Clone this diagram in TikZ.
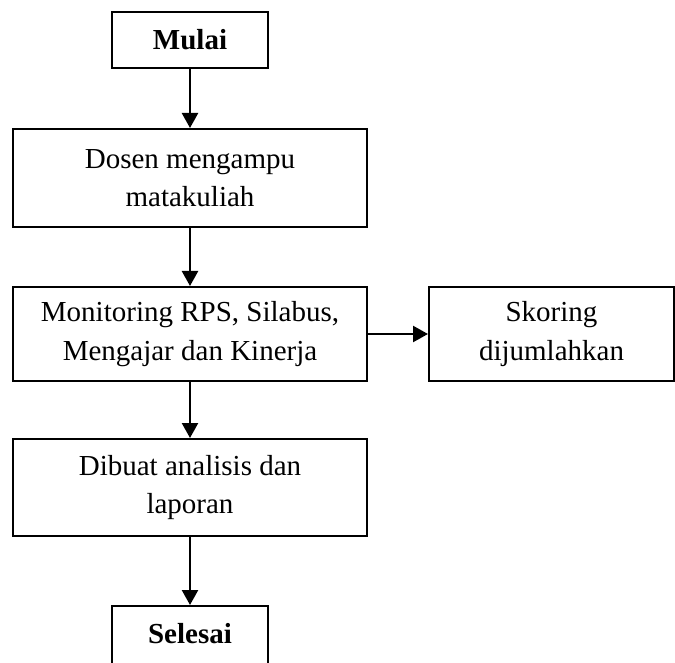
\documentclass[tikz,border=0pt]{standalone}
\usepackage{fontspec}
\setmainfont{Liberation Serif}
\usetikzlibrary{arrows.meta}
\begin{document}
\begin{tikzpicture}[x=1pt,y=-1pt,
  box/.style={draw,line width=2pt,inner sep=0pt,align=center,font=\fontsize{29}{38.5}\selectfont},
  conn/.style={line width=2.4pt,-{Triangle[length=15pt,width=16pt]}}]
\useasboundingbox (0,0) rectangle (675,663);
\node[box,minimum width=156,minimum height=56,font=\fontsize{29}{38.5}\selectfont\bfseries] (mulai) at (190,40) {Mulai};
\node[box,minimum width=354,minimum height=98] (dosen) at (190,178) {Dosen mengampu\\matakuliah};
\node[box,minimum width=354,minimum height=94] (monit) at (190,334) {Monitoring RPS, Silabus,\\Mengajar dan Kinerja};
\node[box,minimum width=245,minimum height=94] (skor) at (551.5,334) {Skoring\\dijumlahkan};
\node[box,minimum width=354,minimum height=97] (dibuat) at (190,487.5) {Dibuat analisis dan\\laporan};
\node[box,minimum width=156,minimum height=68,text height=20pt,text depth=14pt,font=\fontsize{29}{38.5}\selectfont\bfseries] (selesai) at (190,640) {Selesai};
\draw[conn] (mulai.south) -- (dosen.north);
\draw[conn] (dosen.south) -- (monit.north);
\draw[conn] (monit.east) -- (skor.west);
\draw[conn] (monit.south) -- (dibuat.north);
\draw[conn] (dibuat.south) -- (selesai.north);
\end{tikzpicture}
\end{document}
